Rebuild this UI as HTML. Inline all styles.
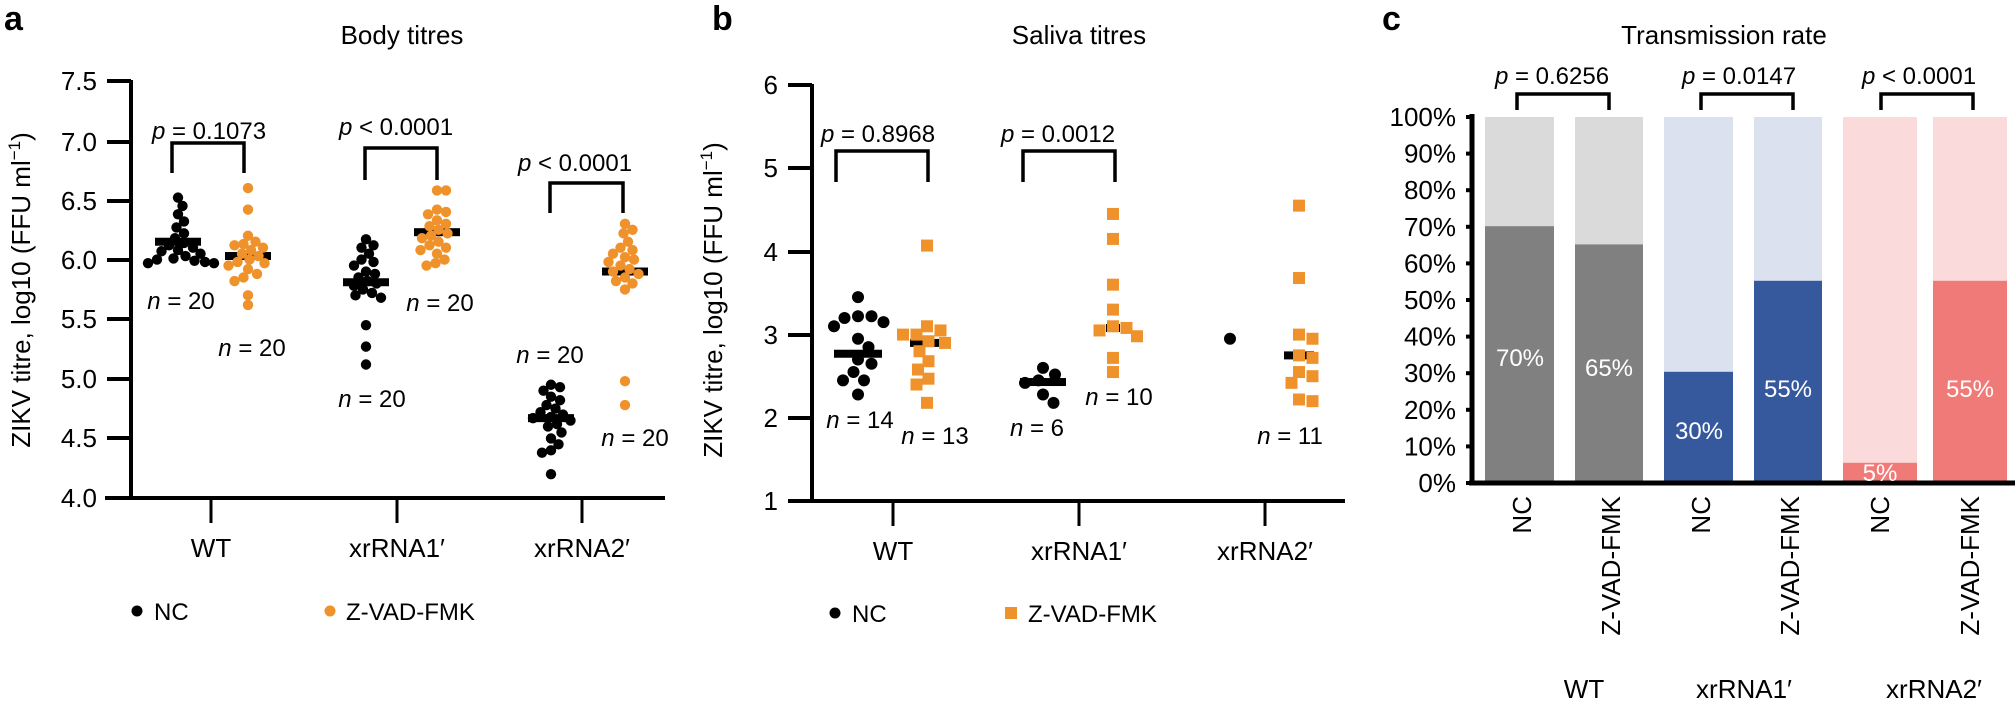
<!DOCTYPE html>
<html><head><meta charset="utf-8"><style>
html,body{margin:0;padding:0;background:#fff;}
svg{display:block;font-family:"Liberation Sans",Arial,sans-serif;}
</style></head><body>
<svg id="s" width="2015" height="702" viewBox="0 0 2015 702" xmlns="http://www.w3.org/2000/svg">
<rect width="2015" height="702" fill="#fff"/>
<text x="4" y="30" font-size="34" font-weight="bold">a</text>
<text x="712" y="30" font-size="34" font-weight="bold">b</text>
<text x="1382" y="30" font-size="34" font-weight="bold">c</text>
<text x="402" y="44" font-size="26" text-anchor="middle">Body titres</text>
<text x="1079" y="44" font-size="26" text-anchor="middle">Saliva titres</text>
<text x="1724" y="44" font-size="26" text-anchor="middle">Transmission rate</text>

<g stroke="#000" stroke-width="4" fill="none">
<line x1="131" y1="80" x2="131" y2="498"/>
<line x1="105" y1="498" x2="665" y2="498"/>
<line x1="107" y1="81" x2="131" y2="81"/><line x1="107" y1="142" x2="131" y2="142"/>
<line x1="107" y1="201" x2="131" y2="201"/><line x1="107" y1="260" x2="131" y2="260"/>
<line x1="107" y1="319" x2="131" y2="319"/><line x1="107" y1="379" x2="131" y2="379"/>
<line x1="107" y1="438" x2="131" y2="438"/>
</g>
<g stroke="#000" stroke-width="3"><line x1="211" y1="498" x2="211" y2="523"/><line x1="397" y1="498" x2="397" y2="523"/><line x1="582" y1="498" x2="582" y2="523"/></g>
<g font-size="26" text-anchor="end">
<text x="97" y="90">7.5</text><text x="97" y="151">7.0</text><text x="97" y="210">6.5</text><text x="97" y="269">6.0</text>
<text x="97" y="328">5.5</text><text x="97" y="388">5.0</text><text x="97" y="447">4.5</text><text x="97" y="507">4.0</text>
</g>
<g font-size="26" text-anchor="middle">
<text x="211" y="557">WT</text><text x="397" y="557">xrRNA1′</text><text x="582" y="557">xrRNA2′</text>
</g>
<text transform="translate(30,290) rotate(-90)" font-size="26" text-anchor="middle">ZIKV titre, log10 (FFU ml<tspan font-size="17" dy="-10">−1</tspan><tspan dy="10">)</tspan></text>
<g stroke="#000" stroke-width="3.5" fill="none">
<polyline points="172,173 172,143 244,143 244,173"/>
<polyline points="365,180 365,148 437,148 437,180"/>
<polyline points="550,213 550,183 623,183 623,213"/>
</g>
<g font-size="24" text-anchor="middle">
<text x="209" y="139"><tspan font-style="italic">p</tspan> = 0.1073</text>
<text x="396" y="135"><tspan font-style="italic">p</tspan> &lt; 0.0001</text>
<text x="575" y="171"><tspan font-style="italic">p</tspan> &lt; 0.0001</text>
</g>
<g font-size="24" text-anchor="middle">
<text x="181" y="309"><tspan font-style="italic">n</tspan> = 20</text>
<text x="252" y="356"><tspan font-style="italic">n</tspan> = 20</text>
<text x="372" y="407"><tspan font-style="italic">n</tspan> = 20</text>
<text x="440" y="311"><tspan font-style="italic">n</tspan> = 20</text>
<text x="550" y="363"><tspan font-style="italic">n</tspan> = 20</text>
<text x="635" y="446"><tspan font-style="italic">n</tspan> = 20</text>
</g>
<circle cx="137" cy="611" r="5.5" fill="#000"/><text x="154" y="620" font-size="24">NC</text>
<circle cx="330" cy="611" r="5.5" fill="#f0922b"/><text x="346" y="620" font-size="24">Z-VAD-FMK</text>

<g stroke="#000" stroke-width="4" fill="none">
<line x1="812" y1="84" x2="812" y2="501"/>
<line x1="788" y1="501" x2="1345" y2="501"/>
<line x1="788" y1="85" x2="812" y2="85"/><line x1="788" y1="168" x2="812" y2="168"/>
<line x1="788" y1="252" x2="812" y2="252"/><line x1="788" y1="335" x2="812" y2="335"/>
<line x1="788" y1="418" x2="812" y2="418"/>
</g>
<g stroke="#000" stroke-width="3"><line x1="893" y1="501" x2="893" y2="526"/><line x1="1079" y1="501" x2="1079" y2="526"/><line x1="1265" y1="501" x2="1265" y2="526"/></g>
<g font-size="26" text-anchor="end">
<text x="778" y="94">6</text><text x="778" y="177">5</text><text x="778" y="261">4</text>
<text x="778" y="344">3</text><text x="778" y="427">2</text><text x="778" y="510">1</text>
</g>
<g font-size="26" text-anchor="middle">
<text x="893" y="560">WT</text><text x="1079" y="560">xrRNA1′</text><text x="1265" y="560">xrRNA2′</text>
</g>
<text transform="translate(722,300) rotate(-90)" font-size="26" text-anchor="middle">ZIKV titre, log10 (FFU ml<tspan font-size="17" dy="-10">−1</tspan><tspan dy="10">)</tspan></text>
<g stroke="#000" stroke-width="3.5" fill="none">
<polyline points="836,182 836,151 928,151 928,182"/>
<polyline points="1023,182 1023,151 1115,151 1115,182"/>
</g>
<g font-size="24" text-anchor="middle">
<text x="878" y="142"><tspan font-style="italic">p</tspan> = 0.8968</text>
<text x="1058" y="142"><tspan font-style="italic">p</tspan> = 0.0012</text>
</g>
<g font-size="24" text-anchor="middle">
<text x="860" y="428"><tspan font-style="italic">n</tspan> = 14</text>
<text x="935" y="444"><tspan font-style="italic">n</tspan> = 13</text>
<text x="1037" y="436"><tspan font-style="italic">n</tspan> = 6</text>
<text x="1119" y="405"><tspan font-style="italic">n</tspan> = 10</text>
<text x="1290" y="444"><tspan font-style="italic">n</tspan> = 11</text>
</g>
<circle cx="835" cy="613" r="5.5" fill="#000"/><text x="852" y="622" font-size="24">NC</text>
<rect x="1005" y="607" width="12" height="12" fill="#f0922b"/><text x="1028" y="622" font-size="24">Z-VAD-FMK</text>

<g id="bars"></g>
<g stroke="#000" stroke-width="5" fill="none">
<line x1="1472" y1="114" x2="1472" y2="483"/>
<line x1="1469" y1="483" x2="2015" y2="483"/>
</g>
<g id="cticks" stroke="#000" stroke-width="4"></g>
<g id="clabels" font-size="26" text-anchor="end"></g>
<g stroke="#000" stroke-width="3.5" fill="none">
<polyline points="1517,110 1517,94 1609,94 1609,110"/>
<polyline points="1701,110 1701,94 1793,94 1793,110"/>
<polyline points="1881,110 1881,94 1973,94 1973,110"/>
</g>
<g font-size="24" text-anchor="middle">
<text x="1552" y="84"><tspan font-style="italic">p</tspan> = 0.6256</text>
<text x="1739" y="84"><tspan font-style="italic">p</tspan> = 0.0147</text>
<text x="1919" y="84"><tspan font-style="italic">p</tspan> &lt; 0.0001</text>
</g>
<g font-size="24" fill="#fff" text-anchor="middle">
<text x="1520" y="366">70%</text>
<text x="1609" y="376">65%</text>
<text x="1699" y="439">30%</text>
<text x="1788" y="397">55%</text>
<text x="1880" y="481">5%</text>
<text x="1970" y="397">55%</text>
</g>
<g font-size="26" text-anchor="end">
<text transform="translate(1531,496) rotate(-90)">NC</text>
<text transform="translate(1620,496) rotate(-90)">Z-VAD-FMK</text>
<text transform="translate(1710,496) rotate(-90)">NC</text>
<text transform="translate(1799,496) rotate(-90)">Z-VAD-FMK</text>
<text transform="translate(1889,496) rotate(-90)">NC</text>
<text transform="translate(1979,496) rotate(-90)">Z-VAD-FMK</text>
</g>
<g font-size="26" text-anchor="middle">
<text x="1584" y="698">WT</text><text x="1744" y="698">xrRNA1′</text><text x="1934" y="698">xrRNA2′</text>
</g>
<g id="pts"></g>
</svg>
<script>
(function(){
var NS="http://www.w3.org/2000/svg";
function el(t,a,p){var e=document.createElementNS(NS,t);for(var k in a)e.setAttribute(k,a[k]);(p||document.getElementById('pts')).appendChild(e);return e;}
var OR="#f0922b";
function swarm(vals,cx,ymap,r,minD){
  var s=vals.slice().sort(function(a,b){return b-a;});var placed=[];var out=[];
  s.forEach(function(v){var y=ymap(v);var k=0;
    while(true){var off=(k===0?0:(k%2?1:-1)*Math.ceil(k/2)*1.5);var x=cx+off;
      var ok=placed.every(function(p){var dx=p[0]-x,dy=p[1]-y;return dx*dx+dy*dy>=minD*minD;});
      if(ok){placed.push([x,y]);out.push([x,y]);break;}k++;if(k>200){out.push([x,y]);break;}}
  });return out;}
function group(vals,cx,med,ymap,color,shape,r,minD,barW){
  var my=ymap(med);
  el('rect',{x:cx-barW/2,y:my-4,width:barW,height:8,fill:'#000'});
  swarm(vals,cx,ymap,r,minD).forEach(function(p){
    if(shape==='c')el('circle',{cx:p[0],cy:p[1],r:r,fill:color});
    else el('rect',{x:p[0]-r,y:p[1]-r,width:2*r,height:2*r,fill:color});
  });
}
var ya=function(v){return 498-(v-4)*119.2;};
group([6.52,6.45,6.38,6.32,6.27,6.22,6.18,6.14,6.1,6.07,6.05,6.03,6.01,6.0,5.99,5.98,5.97,5.97,6.12,6.08],178,6.15,ya,'#000','c',5.2,9,46);
group([6.6,6.42,6.2,6.15,6.12,6.1,6.08,6.05,6.03,6.0,5.98,5.97,5.95,5.92,5.88,5.85,5.82,5.7,5.62,6.13],248,6.03,ya,OR,'c',5.2,9,46);
group([6.17,6.12,6.1,6.05,6.0,5.98,5.95,5.9,5.85,5.82,5.8,5.78,5.75,5.72,5.7,5.68,5.45,5.27,5.12,5.88],366,5.81,ya,'#000','c',5.2,9,46);
group([6.58,6.58,6.42,6.4,6.38,6.33,6.3,6.28,6.25,6.22,6.2,6.18,6.15,6.12,6.1,6.08,6.05,6.0,5.97,5.95],437,6.23,ya,OR,'c',5.2,9,46);
group([4.95,4.93,4.9,4.85,4.82,4.78,4.75,4.72,4.7,4.68,4.67,4.65,4.62,4.6,4.55,4.5,4.45,4.4,4.38,4.2],551,4.67,ya,'#000','c',5.2,9,46);
group([6.3,6.25,6.22,6.15,6.1,6.05,6.02,6.0,5.98,5.95,5.92,5.9,5.88,5.85,5.82,5.8,5.75,4.98,4.78,6.08],625,5.9,ya,OR,'c',5.2,9,46);
var yb=function(v){return 501-(v-1)*83.2;};
group([3.45,3.22,3.22,3.2,3.15,3.1,2.95,2.85,2.7,2.65,2.55,2.45,2.45,2.28],858,2.77,yb,'#000','c',6,13,48);
group([4.07,3.1,3.05,3.0,3.0,2.92,2.9,2.8,2.68,2.58,2.47,2.4,2.18],927,2.9,yb,OR,'s',6,13,34);
group([2.6,2.52,2.45,2.42,2.28,2.18],1043,2.43,yb,'#000','c',6,13,46);
group([4.45,4.15,3.6,3.3,3.1,3.08,3.05,2.98,2.72,2.55],1113,3.08,yb,OR,'s',6,13,14);
el('circle',{cx:1230,cy:yb(2.95),r:6,fill:'#000'});
group([4.55,3.68,3.0,2.95,2.75,2.72,2.55,2.5,2.42,2.22,2.2],1299,2.75,yb,OR,'s',6,13,30);
var bars=document.getElementById('bars');
var xs=[1485,1575,1664,1754,1843,1933],ws=[69,68,69,68,74,74];
var vals=[70,65,30,55,5,55];
var dark=['#808080','#808080','#36589c','#36589c','#f07a78','#f07a78'];
var light=['#dadada','#dadada','#dbe1ef','#dbe1ef','#fadada','#fadada'];
var y0=481,h=481-117;
for(var i=0;i<6;i++){
  el('rect',{x:xs[i],y:117,width:ws[i],height:h,fill:light[i]},bars);
  var bh=h*vals[i]/100;
  el('rect',{x:xs[i],y:y0-bh,width:ws[i],height:bh,fill:dark[i]},bars);
}
var ct=document.getElementById('cticks'),cl=document.getElementById('clabels');
for(var j=0;j<=10;j++){var y=483-j*36.6;
  el('line',{x1:1466,y1:y,x2:1472,y2:y},ct);
  var t=el('text',{x:1456,y:y+9},cl);t.textContent=(j*10)+'%';}
})();
</script>
</body></html>
